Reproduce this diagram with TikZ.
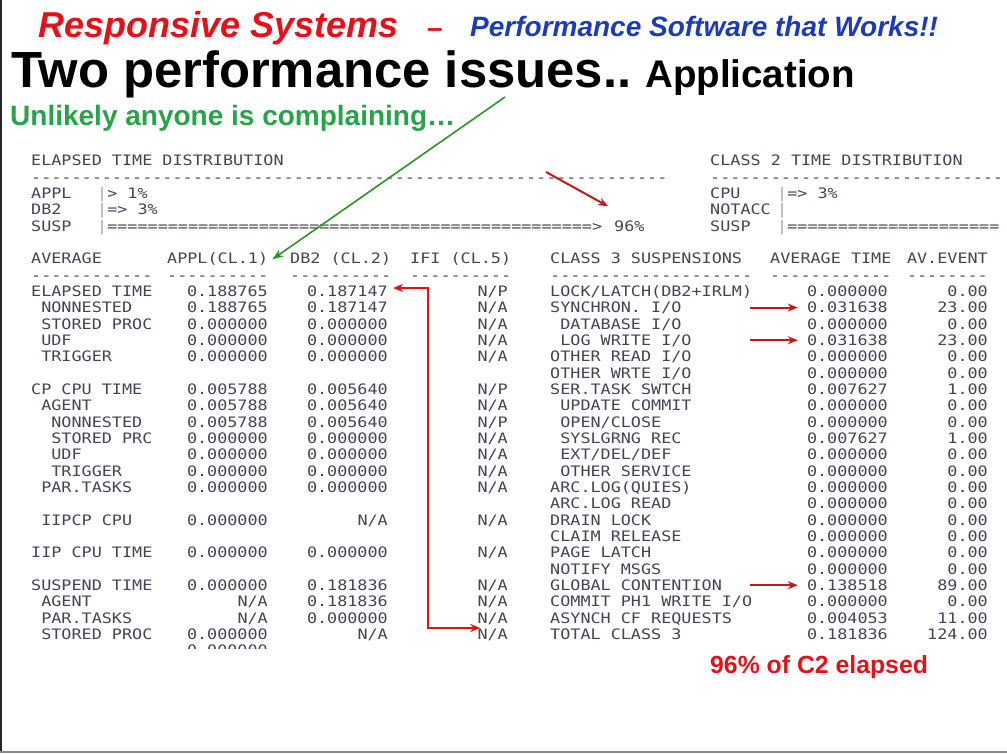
\documentclass[tikz,border=0pt]{standalone}
\usepackage{fontspec}
\setmainfont{Liberation Sans}
\newfontfamily\repfont[FakeStretch=1.165]{DejaVu Sans Mono}
\usetikzlibrary{arrows.meta,calc}

\definecolor{titlered}{RGB}{228,18,24}
\definecolor{titleblue}{RGB}{28,58,190}
\definecolor{notegreen}{RGB}{38,165,72}
\definecolor{arrowgreen}{RGB}{40,150,40}
\definecolor{arrowred}{RGB}{196,24,28}
\definecolor{linkred}{RGB}{232,16,20}
\definecolor{reptext}{RGB}{72,66,86}
\definecolor{repbar}{RGB}{165,165,175}
\definecolor{framegray}{RGB}{135,135,135}

% runs of report characters
\newcommand\dashrun[1]{\foreach\dd in {1,...,#1}{\hbox{-}}}
\newcommand\eqrun[1]{\foreach\dd in {1,...,#1}{\hbox{=}}}
\newcommand\vbar{\textcolor{repbar}{|}}

% one row of the left table: row, indent, label, APPL, DB2, IFI
\newcommand\rowleft[6]{%
  \pgfmathsetmacro\yb{296.5+16.33*(#1)}%
  \pgfmathsetmacro\xl{31+10.1*(#2)}%
  \node[repL] (L#1) at (\xl,\yb) {#3};
  \node[repR] (A#1) at (268,\yb) {#4};
  \node[repR] (B#1) at (388,\yb) {#5};
  \node[repR] (C#1) at (508,\yb) {#6};
}
% one row of the class 3 table: row, indent, label, time, events
\newcommand\rowright[5]{%
  \pgfmathsetmacro\yb{296.5+16.33*(#1)}%
  \pgfmathsetmacro\xl{550+10.1*(#2)}%
  \node[repL] (R#1) at (\xl,\yb) {#3};
  \node[repR] (T#1) at (888,\yb) {#4};
  \node[repR] (E#1) at (988,\yb) {#5};
}

\tikzset{
  rep/.style={inner sep=0pt, font=\repfont\fontsize{14.4}{16}\selectfont, text=reptext},
  repL/.style={rep, anchor=base west},
  repR/.style={rep, anchor=base east},
  headtext/.style={inner sep=0pt, anchor=base west},
  redarrow/.style={draw=arrowred, line width=2pt, -{Stealth[length=10pt,width=8pt]}},
  linkarrow/.style={draw=linkred, line width=2pt, {Stealth[length=10pt,width=8pt]}-{Stealth[length=10pt,width=8pt]}},
  greenarrow/.style={draw=arrowgreen, line width=1.6pt, -{Stealth[length=11pt,width=8pt]}},
}

\begin{document}
\begin{tikzpicture}[x=1pt,y=-1pt]
\useasboundingbox (0,0) rectangle (1007,753);
\fill[white] (0,0) rectangle (1007,753);

% slide frame
\draw[line width=2pt, black!85] (1,0) -- (1,753);
\draw[line width=2pt, framegray] (0,752) -- (1007,752);

% headings
\node[headtext, text=titlered, font=\fontsize{36}{40}\selectfont\bfseries\itshape] (brand) at (38,37) {Responsive Systems};
\node[headtext, text=titlered, font=\fontsize{28}{32}\selectfont\bfseries] (sep) at (427,37) {–};
\node[headtext, text=titleblue, font=\fontsize{28}{32}\selectfont\bfseries\itshape] (slogan) at (470,36) {Performance Software that Works!!};
\node[headtext, font=\fontsize{50.8}{56}\selectfont\bfseries] (headline) at (11,87) {Two performance issues..};
\node[headtext, font=\fontsize{38.5}{44}\selectfont\bfseries] (sub) at (645,87) {Application};
\node[headtext, text=notegreen, font=\fontsize{28}{32}\selectfont\bfseries] (note) at (10,125) {Unlikely anyone is complaining…};

% distribution blocks
\node[repL] (hElapsed) at (31,165.86) {ELAPSED TIME DISTRIBUTION};
\node[repL] (hClass2) at (710,165.86) {CLASS 2 TIME DISTRIBUTION};
\node[repL] (dLeft) at (31,182.19) {\dashrun{63}};
\node[repL] (dRight) at (710,182.19) {\dashrun{29}};
\node[repL] (gAppl) at (31,198.52) {APPL};
\node[repL] (gApplBar) at (97,198.52) {\vbar> 1\%};
\node[repL] (gDb2) at (31,214.85) {DB2};
\node[repL] (gDb2Bar) at (97,214.85) {\vbar=> 3\%};
\node[repL] (gSusp) at (31,231.18) {SUSP};
\node[repL] (gSuspBar) at (97,231.18) {\vbar\eqrun{48}>};
\node[repL] (pct) at (614,231.18) {96\%};
\node[repL] (cCpu) at (710,198.52) {CPU};
\node[repL] (cCpuBar) at (777,198.52) {\vbar=> 3\%};
\node[repL] (cNotacc) at (710,214.85) {NOTACC};
\node[repL] (cNotaccBar) at (777,214.85) {\vbar};
\node[repL] (cSusp) at (710,231.18) {SUSP};
\node[repL] (cSuspBar) at (777,231.18) {\vbar\eqrun{21}};

% column headings
\node[repL] (hAvg) at (31,263.84) {AVERAGE};
\node[repL] (hAppl) at (167,263.84) {APPL(CL.1)};
\node[repL] (hDb2) at (290,263.84) {DB2 (CL.2)};
\node[repL] (hIfi) at (410,263.84) {IFI (CL.5)};
\node[repL] (hSusp) at (550,263.84) {CLASS 3 SUSPENSIONS};
\node[repL] (hTime) at (770,263.84) {AVERAGE TIME};
\node[repR] (hEvent) at (988,263.84) {AV.EVENT};
\node[repL] (uAvg) at (31,280.17) {\dashrun{12}};
\node[repL] (uAppl) at (167,280.17) {\dashrun{10}};
\node[repL] (uDb2) at (290,280.17) {\dashrun{10}};
\node[repL] (uIfi) at (410,280.17) {\dashrun{10}};
\node[repL] (uSusp) at (550,280.17) {\dashrun{20}};
\node[repL] (uTime) at (770,280.17) {\dashrun{12}};
\node[repR] (uEvent) at (988,280.17) {\dashrun{8}};

% times by class
\rowleft{0}{0}{ELAPSED TIME}{0.188765}{0.187147}{N/P}
\rowleft{1}{1}{NONNESTED}{0.188765}{0.187147}{N/A}
\rowleft{2}{1}{STORED PROC}{0.000000}{0.000000}{N/A}
\rowleft{3}{1}{UDF}{0.000000}{0.000000}{N/A}
\rowleft{4}{1}{TRIGGER}{0.000000}{0.000000}{N/A}
\rowleft{6}{0}{CP CPU TIME}{0.005788}{0.005640}{N/P}
\rowleft{7}{1}{AGENT}{0.005788}{0.005640}{N/A}
\rowleft{8}{2}{NONNESTED}{0.005788}{0.005640}{N/P}
\rowleft{9}{2}{STORED PRC}{0.000000}{0.000000}{N/A}
\rowleft{10}{2}{UDF}{0.000000}{0.000000}{N/A}
\rowleft{11}{2}{TRIGGER}{0.000000}{0.000000}{N/A}
\rowleft{12}{1}{PAR.TASKS}{0.000000}{0.000000}{N/A}
\rowleft{14}{1}{IIPCP CPU}{0.000000}{N/A}{N/A}
\rowleft{16}{0}{IIP CPU TIME}{0.000000}{0.000000}{N/A}
\rowleft{18}{0}{SUSPEND TIME}{0.000000}{0.181836}{N/A}
\rowleft{19}{1}{AGENT}{N/A}{0.181836}{N/A}
\rowleft{20}{1}{PAR.TASKS}{N/A}{0.000000}{N/A}
\rowleft{21}{1}{STORED PROC}{0.000000}{N/A}{N/A}
\begin{scope}
\clip (150,640) rectangle (300,648.5);
\node[repR] (A22) at (268,655.76) {0.000000};
\end{scope}

% class 3 suspensions
\rowright{0}{0}{LOCK/LATCH(DB2+IRLM)}{0.000000}{0.00}
\rowright{1}{0}{SYNCHRON. I/O}{0.031638}{23.00}
\rowright{2}{1}{DATABASE I/O}{0.000000}{0.00}
\rowright{3}{1}{LOG WRITE I/O}{0.031638}{23.00}
\rowright{4}{0}{OTHER READ I/O}{0.000000}{0.00}
\rowright{5}{0}{OTHER WRTE I/O}{0.000000}{0.00}
\rowright{6}{0}{SER.TASK SWTCH}{0.007627}{1.00}
\rowright{7}{1}{UPDATE COMMIT}{0.000000}{0.00}
\rowright{8}{1}{OPEN/CLOSE}{0.000000}{0.00}
\rowright{9}{1}{SYSLGRNG REC}{0.007627}{1.00}
\rowright{10}{1}{EXT/DEL/DEF}{0.000000}{0.00}
\rowright{11}{1}{OTHER SERVICE}{0.000000}{0.00}
\rowright{12}{0}{ARC.LOG(QUIES)}{0.000000}{0.00}
\rowright{13}{0}{ARC.LOG READ}{0.000000}{0.00}
\rowright{14}{0}{DRAIN LOCK}{0.000000}{0.00}
\rowright{15}{0}{CLAIM RELEASE}{0.000000}{0.00}
\rowright{16}{0}{PAGE LATCH}{0.000000}{0.00}
\rowright{17}{0}{NOTIFY MSGS}{0.000000}{0.00}
\rowright{18}{0}{GLOBAL CONTENTION}{0.138518}{89.00}
\rowright{19}{0}{COMMIT PH1 WRITE I/O}{0.000000}{0.00}
\rowright{20}{0}{ASYNCH CF REQUESTS}{0.004053}{11.00}
\rowright{21}{0}{TOTAL CLASS 3}{0.181836}{124.00}

\node[headtext, text=titlered, font=\fontsize{24.8}{28}\selectfont\bfseries] (share) at (710,673) {96\% of C2 elapsed};

% call-outs
\coordinate (noteTail) at (505,97);
\draw[greenarrow] (noteTail) -- ([xshift=4pt]hAppl.east);
\coordinate (suspTail) at (546,172);
\draw[redarrow] (suspTail) -- ([xshift=-6pt,yshift=14pt]pct.north west);
\draw[redarrow] ([xshift=-57pt]T1.west) -- ([xshift=-9pt]T1.west);
\draw[redarrow] ([xshift=-57pt]T3.west) -- ([xshift=-9pt]T3.west);
\draw[redarrow] ([xshift=-57pt]T18.west) -- ([xshift=-9pt]T18.west);
\coordinate (elbowTop) at (428,288);
\coordinate (elbowBot) at (428,628);
\draw[linkarrow] ([xshift=5pt]B0.east |- elbowTop) -- (elbowTop) -- (elbowBot) -- ([xshift=3pt]C21.west |- elbowBot);
\end{tikzpicture}
\end{document}
